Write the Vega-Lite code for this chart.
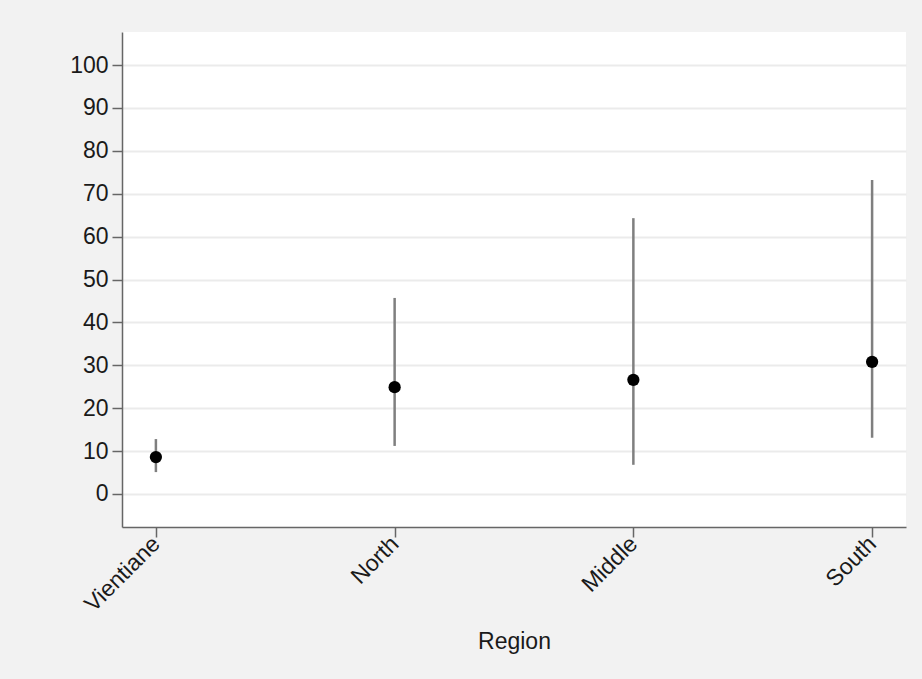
{
  "$schema": "https://vega.github.io/schema/vega-lite/v6.json",
  "autosize": "none",
  "width": 784,
  "height": 495,
  "padding": {"left": 122, "top": 32, "right": 16, "bottom": 152},
  "background": "#f2f2f2",
  "config": {
    "view": {"fill": "white", "stroke": null},
    "font": "Liberation Sans",
    "axis": {
      "labelFont": "Liberation Sans",
      "titleFont": "Liberation Sans",
      "labelColor": "#1a1a1a",
      "titleColor": "#1a1a1a",
      "labelFontSize": 23,
      "titleFontSize": 23,
      "titleFontWeight": "normal",
      "domainColor": "#666666",
      "domainWidth": 1.5,
      "tickColor": "#666666",
      "tickWidth": 1.5,
      "tickSize": 10,
      "gridColor": "#ebebeb",
      "gridWidth": 2
    }
  },
  "data": {
    "values": [
      {"Region": "Vientiane", "est": 8.6, "lo": 5.1, "hi": 12.8},
      {"Region": "North", "est": 24.9, "lo": 11.2, "hi": 45.7},
      {"Region": "Middle", "est": 26.6, "lo": 6.8, "hi": 64.3},
      {"Region": "South", "est": 30.8, "lo": 13.1, "hi": 73.2}
    ]
  },
  "encoding": {
    "x": {
      "field": "Region",
      "type": "nominal",
      "sort": null,
      "scale": {"type": "point", "padding": 0.142},
      "axis": {"labelAngle": -45, "labelAlign": "right", "labelBaseline": "middle", "labelPadding": 3, "grid": false, "title": "Region", "titlePadding": 14}
    }
  },
  "layer": [
    {
      "mark": {"type": "rule", "color": "#7f7f7f", "strokeWidth": 2.5},
      "encoding": {
        "y": {"field": "lo", "type": "quantitative", "scale": {"domain": [-7.7, 107.7], "nice": false, "zero": false},
              "axis": {"values": [0, 10, 20, 30, 40, 50, 60, 70, 80, 90, 100], "title": null, "labelPadding": 4, "grid": true}},
        "y2": {"field": "hi"}
      }
    },
    {
      "mark": {"type": "point", "filled": true, "color": "#000000", "size": 150, "opacity": 1},
      "encoding": {
        "y": {"field": "est", "type": "quantitative"}
      }
    }
  ]
}
